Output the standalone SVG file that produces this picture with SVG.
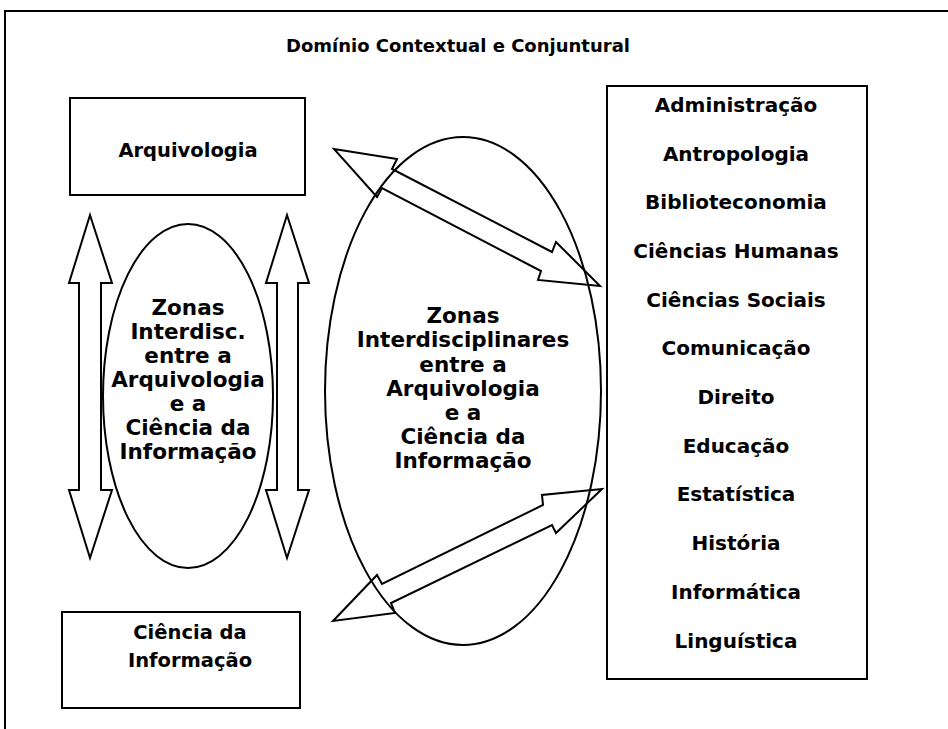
<svg xmlns="http://www.w3.org/2000/svg" width="948" height="729" viewBox="0 0 948 729">
<style>
.t{font-family:"DejaVu Sans",Verdana,sans-serif;font-weight:bold;font-size:20px;fill:#000;text-anchor:middle}
.z{font-size:21.5px}
.s{fill:#fff;stroke:#000;stroke-width:2}
.a{fill:#fff;stroke:#000;stroke-width:2;stroke-linejoin:miter}
</style>
<rect width="948" height="729" fill="#fff"/>
<g id="frame">
<path d="M5,729 V11 H948" fill="none" stroke="#000" stroke-width="2"/>
<text class="t" x="458" y="52" style="font-size:18px">Domínio Contextual e Conjuntural</text>
</g>
<g id="arquivologia">
<rect class="s" x="70" y="98" width="235" height="97"/>
<text class="t" x="188" y="157" style="font-size:19.5px">Arquivologia</text>
</g>
<g id="ciencia">
<rect class="s" x="62" y="612" width="238" height="96"/>
<text class="t" x="190" y="639" style="font-size:19.5px">Ciência da</text>
<text class="t" x="190" y="667" style="font-size:19.5px">Informação</text>
</g>
<g id="disciplinas">
<rect class="s" x="607" y="86" width="260" height="593"/>
<text class="t" x="736" y="112">Administração</text>
<text class="t" x="736" y="161">Antropologia</text>
<text class="t" x="736" y="209">Biblioteconomia</text>
<text class="t" x="736" y="258">Ciências Humanas</text>
<text class="t" x="736" y="307">Ciências Sociais</text>
<text class="t" x="736" y="355">Comunicação</text>
<text class="t" x="736" y="404">Direito</text>
<text class="t" x="736" y="453">Educação</text>
<text class="t" x="736" y="501">Estatística</text>
<text class="t" x="736" y="550">História</text>
<text class="t" x="736" y="599">Informática</text>
<text class="t" x="736" y="648">Linguística</text>
</g>
<g id="connectors">
<polygon class="a" points="90,215 112,283 101,283 101,490 112,490 90,558 69,490 79,490 79,283 69,283"/>
<polygon class="a" points="287,215 309,283 298,283 298,490 309,490 287,558 266,490 277,490 277,283 266,283"/>
<polygon class="a" points="334,149 397,159 392,169 552,252 556,242 600,286 538,280 541,271 382,188 377,197"/>
<polygon class="a" points="333,621 377,575 382,584 543,505 542,495 602,489 556,533 552,525 391,603 395,613"/>
</g>
<g id="zona-pequena">
<ellipse cx="188" cy="396" rx="85" ry="172" fill="none" stroke="#000" stroke-width="2"/>
<text class="t z" x="188" y="315">Zonas</text>
<text class="t z" x="188" y="339">Interdisc.</text>
<text class="t z" x="188" y="363">entre a</text>
<text class="t z" x="188" y="387">Arquivologia</text>
<text class="t z" x="188" y="411">e a</text>
<text class="t z" x="188" y="435">Ciência da</text>
<text class="t z" x="188" y="459">Informação</text>
</g>
<g id="zona-grande">
<ellipse cx="463" cy="391" rx="138" ry="254" fill="none" stroke="#000" stroke-width="2"/>
<text class="t z" x="463" y="323">Zonas</text>
<text class="t z" x="463" y="347">Interdisciplinares</text>
<text class="t z" x="463" y="372">entre a</text>
<text class="t z" x="463" y="396">Arquivologia</text>
<text class="t z" x="463" y="420">e a</text>
<text class="t z" x="463" y="444">Ciência da</text>
<text class="t z" x="463" y="468">Informação</text>
</g>
</svg>
